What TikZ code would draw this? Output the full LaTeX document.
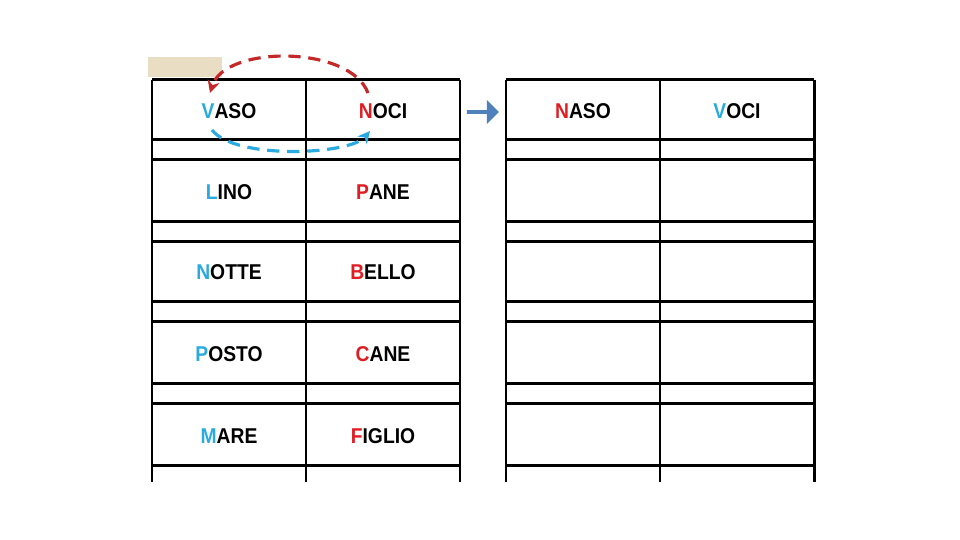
\documentclass[tikz,border=0pt]{standalone}
\usepackage{fontspec}
\setmainfont{Liberation Sans}
\usetikzlibrary{arrows.meta, shapes.arrows}
\definecolor{letterblue}{RGB}{41,170,225}
\definecolor{letterred}{RGB}{222,30,36}
\definecolor{swapred}{RGB}{196,40,40}
\definecolor{tabtan}{RGB}{233,222,196}
\definecolor{arrowblue}{RGB}{79,129,189}
\tikzset{
  grid line/.style={line width=0.85pt, black},
  word/.style={font=\fontsize{6.1}{6.5}\selectfont\bfseries, inner sep=0pt, xscale=0.9},
  swap/.style={line width=0.9pt, dash pattern=on 3.5pt off 2.2pt, -{Stealth[length=3.5pt, width=3.5pt]}},
}
\newcommand{\bw}[1]{\textcolor{letterblue}{#1}}
\newcommand{\rw}[1]{\textcolor{letterred}{#1}}
\begin{document}
\begin{tikzpicture}[x=0.1mm, y=-0.1mm]
  \useasboundingbox[fill=white] (0,0) rectangle (960,540);
  \fill[tabtan] (148,57) rectangle (222,77);
  % tables
  \foreach \xl/\xm/\xr in {152/306/460, 506/660/814} {
    \foreach \y in {80,140,160,222,242,302,322,384,404,466}
      \draw[grid line] (\xl,\y) -- (\xr,\y);
    \foreach \x in {\xl,\xm,\xr}
      \draw[grid line] (\x,80) -- (\x,482);
  }
  % words, left table
  \node[word] (vaso) at (229,111) {\bw{V}ASO};
  \node[word] (noci) at (383,111) {\rw{N}OCI};
  \node[word] (lino) at (229,192) {\bw{L}INO};
  \node[word] (pane) at (383,192) {\rw{P}ANE};
  \node[word] (notte) at (229,272) {\bw{N}OTTE};
  \node[word] (bello) at (383,272) {\rw{B}ELLO};
  \node[word] (posto) at (229,354) {\bw{P}OSTO};
  \node[word] (cane) at (383,354) {\rw{C}ANE};
  \node[word] (mare) at (229,436) {\bw{M}ARE};
  \node[word] (figlio) at (383,436) {\rw{F}IGLIO};
  % words, right table
  \node[word] (naso) at (583,111) {\rw{N}ASO};
  \node[word] (voci) at (737,111) {\bw{V}OCI};
  % swap arrows
  \coordinate (vtop) at (210,93);
  \coordinate (ntop) at (368,93);
  \coordinate (vbot) at (212,130);
  \coordinate (nbot) at (370,131);
  \draw[swap, swapred] (ntop) .. controls (350,45) and (225,45) .. (vtop);
  \draw[swap, letterblue] (vbot) .. controls (235,160) and (350,155) .. (nbot);
  \node[single arrow, fill=arrowblue, draw=none, inner sep=0pt, outer sep=0pt,
        minimum height=3.2mm, minimum width=2.4mm, single arrow head extend=0.4mm] (go) at (482,112) {};
\end{tikzpicture}
\end{document}
